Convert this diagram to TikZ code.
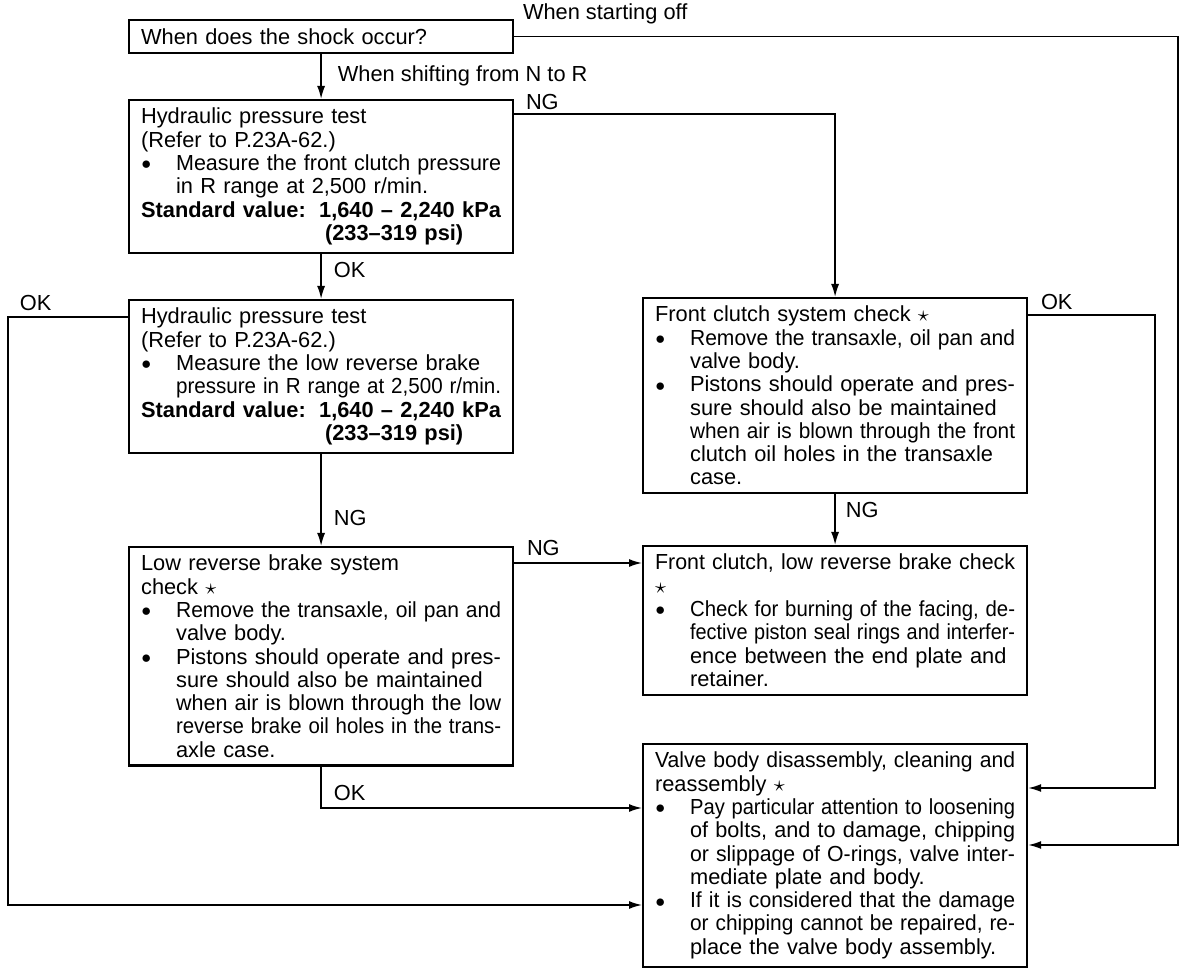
\documentclass[tikz,border=0pt]{standalone}
\usepackage{fontspec}
\setmainfont{Liberation Sans}
\usepackage{graphicx}
\usetikzlibrary{arrows.meta}
\newlength\fullw \setlength\fullw{180pt}
\newlength\itemw \setlength\itemw{162.5pt}
\newsavebox\linebox
\newcommand{\justline}[2]{\sbox\linebox{#2}\ifdim\wd\linebox>#1\resizebox{#1}{\height}{\usebox\linebox}\else\makebox[#1][s]{#2}\fi}
\newcommand{\bigdot}{\raisebox{.3pt}{\fontsize{8.6}{8.6}\selectfont ●}}
\newcommand{\bulj}[1]{\makebox[17.5pt][l]{\bigdot}\justline{\itemw}{#1}}
\newcommand{\contj}[1]{\hspace*{17.5pt}\justline{\itemw}{#1}}
\newcommand{\contl}[1]{\hspace*{17.5pt}#1}
\newcommand{\shopstar}{$\star$}
\tikzset{stepbox/.style={draw,line width=1.1pt,text width=\fullw,inner xsep=6pt,inner ysep=4pt,align=left,anchor=north west,font=\fontsize{10.9}{11.65}\selectfont},
 flowline/.style={line width=.8pt},
 flowarrow/.style={flowline,-{Latex[length=6.5pt,width=4pt]}},
 lbl/.style={font=\fontsize{10.9}{11.65}\selectfont,inner sep=0pt,anchor=base west}}

\begin{document}
\begin{tikzpicture}[x=.5pt,y=-.5pt]
\useasboundingbox (0,0) rectangle (1200,978);
% boxes
\node[stepbox,inner ysep=4.2pt] (when) at (128,19) {When does the shock occur?};
\node[stepbox] (hptfront) at (128,99) {Hydraulic pressure test\\
(Refer to P.23A-62.)\\
\bulj{Measure the front clutch pressure}\\
\contl{in R range at 2,500 r/min.}\\
\justline{\fullw}{\textbf{Standard value:}\hfill\textbf{1,640 -- 2,240 kPa}}\\
\hspace*{92pt}\textbf{(233--319 psi)}};
\node[stepbox] (hptlow) at (128,299) {Hydraulic pressure test\\
(Refer to P.23A-62.)\\
\bulj{Measure the low reverse brake}\\
\contj{pressure in R range at 2,500 r/min.}\\
\justline{\fullw}{\textbf{Standard value:}\hfill\textbf{1,640 -- 2,240 kPa}}\\
\hspace*{92pt}\textbf{(233--319 psi)}};
\node[stepbox] (lowchk) at (128,546) {Low reverse brake system\\
check \shopstar\\
\bulj{Remove the transaxle, oil pan and}\\
\contl{valve body.}\\
\bulj{Pistons should operate and pres-}\\
\contj{sure should also be maintained}\\
\contj{when air is blown through the low}\\
\contj{reverse brake oil holes in the trans-}\\
\contl{axle case.}};
\node[stepbox] (frontchk) at (642,297) {Front clutch system check \shopstar\\
\bulj{Remove the transaxle, oil pan and}\\
\contl{valve body.}\\
\bulj{Pistons should operate and pres-}\\
\contj{sure should also be maintained}\\
\contj{when air is blown through the front}\\
\contj{clutch oil holes in the transaxle}\\
\contl{case.}};
\node[stepbox] (bothchk) at (642,545) {\justline{\fullw}{Front clutch, low reverse brake check}\\
\shopstar\\
\bulj{Check for burning of the facing, de-}\\
\contj{fective piston seal rings and interfer-}\\
\contj{ence between the end plate and}\\
\contl{retainer.}};
\node[stepbox] (valvebody) at (642,743) {\justline{\fullw}{Valve body disassembly, cleaning and}\\
reassembly \shopstar\\
\bulj{Pay particular attention to loosening}\\
\contj{of bolts, and to damage, chipping}\\
\contj{or slippage of O-rings, valve inter-}\\
\contl{mediate plate and body.}\\
\bulj{If it is considered that the damage}\\
\contj{or chipping cannot be repaired, re-}\\
\contj{place the valve body assembly.}};
% rails and entry points
\coordinate (rimR) at (1178,0);
\coordinate (rimC) at (1155,0);
\coordinate (rimL) at (8,0);
\coordinate (vbR1) at ([yshift=-22.5pt]valvebody.north east);
\coordinate (vbR2) at ([yshift=-51pt]valvebody.north east);
\coordinate (vbL1) at ([yshift=-32.5pt]valvebody.north west);
\coordinate (vbL2) at ([yshift=-81pt]valvebody.north west);
% connectors
\draw[flowarrow] (when.south) -- node[lbl,pos=0,xshift=8pt,yshift=-13.9pt]{When shifting from N to R} (hptfront.north);
\draw[flowarrow] (when.east) -| node[lbl,pos=0,xshift=4pt,yshift=8.5pt]{When starting off} (rimR |- vbR2) -- (vbR2);
\draw[flowarrow] ([yshift=-7.5pt]hptfront.north east) -| node[lbl,pos=0,xshift=5.5pt,yshift=2pt]{NG} (frontchk.north);
\draw[flowarrow] (hptfront.south) -- node[lbl,pos=0,xshift=6pt,yshift=-11.9pt]{OK} (hptlow.north);
\draw[flowarrow] ([yshift=-9pt]hptlow.north west) -| node[lbl,pos=.5,xshift=5.5pt,yshift=3pt]{OK} (rimL |- vbL2) -- (vbL2);
\draw[flowarrow] (hptlow.south) -- node[lbl,pos=0,xshift=6pt,yshift=-35.9pt]{NG} (lowchk.north);
\draw[flowarrow] ([yshift=-9pt]frontchk.north east) -| node[lbl,pos=0,xshift=6pt,yshift=2.6pt]{OK} (rimC |- vbR1) -- (vbR1);
\draw[flowarrow] (frontchk.south) -- node[lbl,pos=0,xshift=5pt,yshift=-11.4pt]{NG} (bothchk.north);
\draw[flowarrow] ([yshift=-8.5pt]lowchk.north east) -- node[lbl,pos=0,xshift=6pt,yshift=3.6pt]{NG} ([yshift=-8.5pt]lowchk.north east -| bothchk.west);
\draw[flowarrow] (lowchk.south) |- node[lbl,pos=.5,xshift=6pt,yshift=3.6pt]{OK} (vbL1);
\end{tikzpicture}
\end{document}
